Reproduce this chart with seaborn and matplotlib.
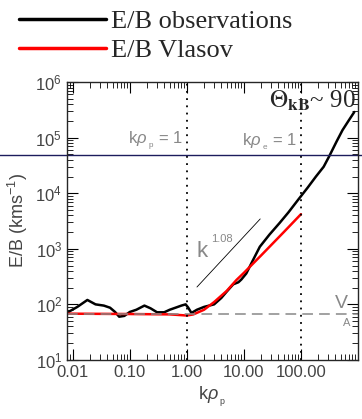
import numpy as np
import pandas as pd
import matplotlib
matplotlib.use('Agg')
import matplotlib.pyplot as plt
import seaborn as sns
from matplotlib.ticker import FixedLocator, FixedFormatter, LogLocator, NullFormatter

# E/B observations (black)
k_obs = [0.008, 0.012, 0.018, 0.025, 0.035, 0.045, 0.055, 0.065, 0.08, 0.1,
         0.13, 0.18, 0.23, 0.3, 0.4, 0.5, 0.65, 0.8, 0.95, 1.05, 1.2, 1.5,
         2, 3, 4, 5, 6.5, 8, 9, 11, 14, 19, 28, 42, 60, 88, 130, 183, 250,
         315, 420, 535, 700, 860]
eb_obs = [71, 90, 120, 100, 95, 87, 73, 60, 62, 73,
          80, 95, 85, 72, 72, 80, 88, 95, 100, 88, 70, 80,
          90, 100, 130, 170, 230, 250, 280, 360, 590, 1090, 1800, 2900, 4500,
          7500, 12500, 20000, 30000, 47000, 85000, 137000, 210000, 290000]

# E/B Vlasov (red)
k_vla = [0.008, 0.1, 0.5, 1.0, 1.3, 2, 3, 5, 7.4, 10, 20, 50, 100]
eb_vla = [68, 67, 66, 63, 66, 80, 110, 175, 275, 370, 760, 2000, 4200]

v_alfven = 67
eb_ref = 48000
k_slope = [1.5, 19.3]
eb_slope = [205, 3450]

df = pd.concat([
    pd.DataFrame({'k': k_obs, 'EB': eb_obs, 'src': 'E/B observations'}),
    pd.DataFrame({'k': k_vla, 'EB': eb_vla, 'src': 'E/B Vlasov'}),
])

sns.set_style('ticks')
plt.rcParams['font.family'] = ['Liberation Sans', 'DejaVu Sans']
plt.rcParams['mathtext.fontset'] = 'custom'
plt.rcParams['mathtext.rm'] = 'Liberation Sans'
plt.rcParams['mathtext.it'] = 'Liberation Sans:italic'
plt.rcParams['mathtext.bf'] = 'Liberation Serif:bold'

fig = plt.figure(figsize=(3.62, 4.19), dpi=100)
ax = fig.add_axes([0.185, 0.141, 0.804, 0.663])

sns.lineplot(data=df, x='k', y='EB', hue='src', palette=['black', 'red'],
             linewidth=1.8, ax=ax, legend=False, sort=False)
ax.set_xscale('log')
ax.set_yscale('log')
ax.set_xlim(0.0079, 1000)
ax.set_ylim(10, 1e6)

grey = '#888888'
ax.axhline(v_alfven, color=grey, ls=(0, (7, 4)), lw=1.1)
ax.axvline(1, color='black', ls=(0, (1, 3)), lw=1.3)
ax.axvline(100, color='black', ls=(0, (1, 3)), lw=1.3)
ax.axhline(eb_ref, xmin=-0.3, xmax=1.05, color='#1c1c5c', lw=1.0, clip_on=False)
ax.plot(k_slope, eb_slope, color='black', lw=0.6)

ax.text(0.85, 8.5e4, r'k$\rho_{_{\ \mathrm{p}}}$ = 1', color=grey, fontsize=12, ha='right', va='center')
ax.text(85, 8.5e4, r'k$\rho_{_{\ \mathrm{e}}}$ = 1', color=grey, fontsize=12, ha='right', va='center')
ax.text(1.5, 900, 'k', color=grey, fontsize=16, ha='left', va='center')
ax.text(2.7, 1500, '1.08', color=grey, fontsize=8, ha='left', va='center')
ax.text(400, 72, 'V', color=grey, fontsize=14, ha='left', va='bottom')
ax.text(540, 58, 'A', color=grey, fontsize=8, ha='left', va='top')
ax.text(920, 4.6e5, r'$\Theta_{\mathbf{kB}}$~ 90', fontsize=18, ha='right', va='center',
        family='Liberation Serif', math_fontfamily='stix')

ax.xaxis.set_major_locator(FixedLocator([0.01, 0.1, 1, 10, 100]))
ax.xaxis.set_major_formatter(FixedFormatter(['0.01', '0.10', '1.00', '10.00', '100.00']))
ax.xaxis.set_minor_locator(LogLocator(base=10, subs=np.arange(2, 10)))
ax.xaxis.set_minor_formatter(NullFormatter())
ax.yaxis.set_minor_locator(LogLocator(base=10, subs=np.arange(2, 10)))
ax.yaxis.set_minor_formatter(NullFormatter())
ax.tick_params(which='both', direction='in', top=True, right=True, colors='black',
               labelcolor='#444444', labelsize=12)
ax.tick_params(which='major', length=8, width=0.8)
ax.tick_params(which='minor', length=4, width=0.6)
for s in ax.spines.values():
    s.set_linewidth(1.0)

ax.set_xlabel(r'k$\rho_{_{\ \mathrm{p}}}$', fontsize=13, color='#444444')
ax.set_ylabel(r'E/B (kms$^{-1}$)', fontsize=13, color='#444444', labelpad=4)

h1, = ax.plot([], [], color='black', lw=2.5)
h2, = ax.plot([], [], color='red', lw=2.5)
fig.legend([h1, h2], ['E/B observations', 'E/B Vlasov'], loc='upper left',
           bbox_to_anchor=(0.045, 0.983), frameon=False, handlelength=3.3,
           handletextpad=0.2, labelspacing=0.2, borderaxespad=0.0, borderpad=0.1,
           prop={'family': 'Liberation Serif', 'size': 19})

fig.savefig('out.png', dpi=100)
